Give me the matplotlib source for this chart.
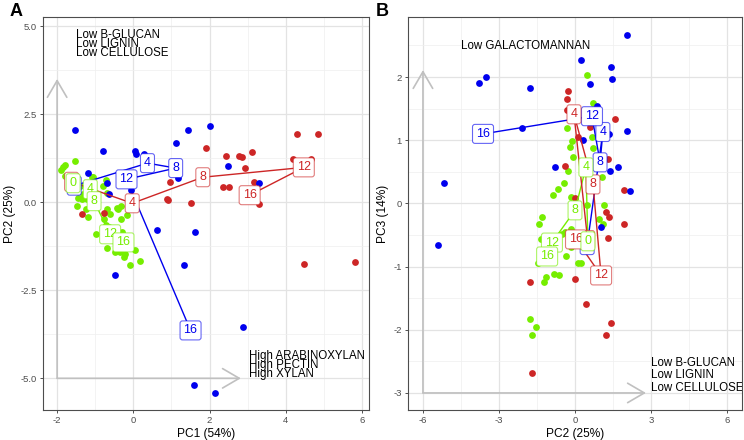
import numpy as np
import matplotlib
matplotlib.use("Agg")
import matplotlib.pyplot as plt
from matplotlib.colors import to_rgba

plt.rcParams['font.family'] = ['Liberation Sans', 'DejaVu Sans']

GREEN = '#76EE00'
RED = '#CD2626'
BLUE = '#0000EE'

times = [0, 4, 8, 12, 16]

# ---- panel A: PC1 vs PC2 ----
a_green_x = [-1.53, -1.78, -1.84, -1.89, -1.80, -1.08, -0.73, -0.79, -1.41, -1.32, -1.24, -1.08,
             -1.46, -1.36, -1.22, -1.49, -1.23, -0.32, -0.39, -0.44, -0.68, -0.61, -1.19, -0.16,
             -0.32, -0.76, -0.73, -0.64, -0.99, -0.29, -0.70, -0.48, -0.36, -0.23, -0.25, 0.03,
             0.17, -0.10, -1.05, -0.69]
a_green_y = [1.16, 1.07, 0.99, 0.92, 0.74, 0.72, 0.62, 0.46, 0.45, 0.22, 0.23, 0.25,
             0.13, 0.09, 0.09, -0.10, -0.19, -0.10, -0.18, -0.15, -0.18, -0.33, -0.41, -0.35,
             -0.49, -0.49, -0.65, -0.70, -0.91, -0.84, -1.30, -1.41, -1.41, -1.46, -1.55, -1.36,
             -1.68, -1.77, 0.71, 0.26]
a_red_x = [4.28, 4.83, 1.91, 2.42, 2.76, 2.85, 3.10, 2.94, 4.18, 4.66, 2.35, 2.51, 3.17, 3.29,
           1.51, 4.47, 5.80, 0.97, 0.89, 0.91, -1.34, -0.77]
a_red_y = [1.93, 1.93, 1.55, 1.32, 1.31, 1.29, 1.43, 0.98, 1.22, 1.23, 0.42, 0.44, 0.58, -0.04,
           -0.03, -1.76, -1.71, 0.58, 0.10, 0.05, -0.33, -0.30]
a_blue_x = [-1.52, -0.79, 0.04, 0.06, 0.28, 1.11, 1.44, 2.00, 2.48, 3.30, 1.18, -1.18, -0.68,
            -0.64, -0.05, 0.61, 1.62, 1.32, -0.48, 2.87, 1.60, 2.14, -1.55]
a_blue_y = [2.05, 1.45, 1.46, 1.36, 1.36, 1.68, 2.05, 2.16, 1.02, 0.54, 0.70, 0.83, 0.55,
            0.24, 0.34, -0.78, -0.84, -1.79, -2.08, -3.53, -5.20, -5.42, 0.45]

# trajectories (week 0..16)
a_traj_green = ([-1.58, -1.13, -1.03, -0.61, -0.26], [0.54, 0.37, 0.03, -0.91, -1.14])
a_traj_blue = ([-1.55, 0.37, 1.11, -0.18, 1.50], [0.47, 1.11, 0.97, 0.65, -3.64])
a_traj_red = ([-1.62, -0.03, 1.82, 4.47, 3.05], [0.58, -0.03, 0.71, 0.99, 0.20])

# ---- panel B: PC2 vs PC3 ----
b_green_x = [0.47, 0.71, -0.32, -0.12, -0.20, 0.67, 0.71, -0.08, -0.28, -0.43, -0.67, -0.87,
             -0.16, 0.47, 1.14, 1.07, -1.30, -1.42, -0.39, -0.51, -0.16, -1.34, -0.36, 0.12,
             0.24, -1.46, -0.83, -0.63, -1.14, -1.22, -1.78, -1.54, -1.70, 0.95, 1.10, -0.16]
b_green_y = [2.03, 1.59, 1.19, 0.98, 0.90, 1.05, 0.87, 0.73, 0.51, 0.32, 0.22, 0.14,
             0.10, -0.02, -0.02, 0.41, -0.22, -0.33, -0.46, -0.48, -0.41, -0.56, -0.83, -0.94,
             -0.95, -0.95, -1.11, -1.13, -1.17, -1.24, -1.83, -1.95, -2.08, -0.25, -0.33, -0.69]
b_red_x = [-0.28, -0.32, -0.32, 1.58, 0.59, 0.12, -0.39, 1.30, 1.93, 0.00, 1.22, 1.34, 1.93,
           1.30, 0.00, -1.78, 0.43, 1.42, 1.22, -1.70]
b_red_y = [1.78, 1.65, 1.48, 1.33, 1.21, 1.05, 0.59, 0.71, 0.21, 0.08, -0.14, -0.22, -0.33,
           -0.54, -1.19, -1.24, -1.59, -1.89, -2.08, -2.68]
b_blue_x = [2.05, 0.24, 1.42, 1.46, 0.59, -3.51, -3.79, -1.78, -2.09, 2.05, 0.87, 0.32, 1.34,
            -5.17, -0.79, 1.70, 1.38, 2.17, -5.41, 1.03]
b_blue_y = [2.67, 2.27, 2.16, 1.97, 1.89, 2.00, 1.90, 1.83, 1.20, 1.14, 1.54, 1.00, 1.10,
            0.33, 0.57, 0.57, 0.51, 0.19, -0.66, -0.37]

b_traj_green = ([0.51, 0.43, 0.00, -0.91, -1.10], [-0.60, 0.57, -0.11, -0.62, -0.84])
b_traj_blue = ([0.48, 1.10, 0.99, 0.67, -3.63], [-0.66, 1.13, 0.65, 1.38, 1.10])
b_traj_red = ([0.50, -0.04, 0.71, 1.03, 0.04], [-0.58, 1.41, 0.30, -1.14, -0.57])


def style_axes(ax, xmaj, xmin, ymaj, ymin, xlim, ylim, xfmt, yfmt):
    ax.set_xlim(xlim)
    ax.set_ylim(ylim)
    ax.set_xticks(xmaj)
    ax.set_xticks(xmin, minor=True)
    ax.set_yticks(ymaj)
    ax.set_yticks(ymin, minor=True)
    ax.set_xticklabels([xfmt % v for v in xmaj])
    ax.set_yticklabels([yfmt % v for v in ymaj])
    ax.grid(True, which='major', color='#e3e3e3', lw=0.9, zorder=0)
    ax.grid(True, which='minor', color='#efefef', lw=0.5, zorder=0)
    ax.set_axisbelow(True)
    ax.tick_params(which='major', length=2.5, width=0.6, color='#333333',
                   labelsize=6.8, labelcolor='#4d4d4d', pad=2)
    ax.tick_params(which='minor', length=0)
    for s in ax.spines.values():
        s.set_color('#4d4d4d')
        s.set_linewidth(0.8)


def draw_traj(ax, traj, color, lw=1.0):
    ax.plot(traj[0], traj[1], color=color, lw=lw, zorder=3)


def draw_labels(ax, traj, color):
    edge = to_rgba(color, 0.6)
    for x, y, t in zip(traj[0], traj[1], times):
        ax.text(x, y, str(t), color=color, fontsize=9, ha='center', va='center', zorder=5,
                bbox=dict(boxstyle='round,pad=0.28,rounding_size=0.2', fc='white',
                          ec=edge, lw=0.8))


def arrow(ax, start, tip):
    ax.annotate('', xy=tip, xytext=start, zorder=1,
                arrowprops=dict(arrowstyle='->,head_length=1.2,head_width=0.7',
                                color='#c0c0c0', lw=1.2, shrinkA=0, shrinkB=0))


fig = plt.figure(figsize=(7.44, 4.40), dpi=100)
axA = fig.add_axes([43 / 744, 1 - 410 / 440, 326 / 744, 393 / 440])
axB = fig.add_axes([408 / 744, 1 - 410 / 440, 334 / 744, 393 / 440])

# panel A
style_axes(axA, [-2, 0, 2, 4, 6], [-1, 1, 3, 5], [-5, -2.5, 0, 2.5, 5],
           [-3.75, -1.25, 1.25, 3.75], (-2.37, 6.18), (-5.9, 5.26), '%d', '%.1f')
arrow(axA, (-2, -5), (-2, 3.5))
arrow(axA, (-2, -5), (2.82, -5))
axA.scatter(a_green_x, a_green_y, s=24, color=GREEN, lw=0, zorder=2)
axA.scatter(a_red_x, a_red_y, s=24, color=RED, lw=0, zorder=2)
axA.scatter(a_blue_x, a_blue_y, s=24, color=BLUE, lw=0, zorder=2)
for tr, c in [(a_traj_green, GREEN), (a_traj_blue, BLUE), (a_traj_red, RED)]:
    draw_traj(axA, tr, c)
for tr, c in [(a_traj_blue, BLUE), (a_traj_red, RED), (a_traj_green, GREEN)]:
    draw_labels(axA, tr, c)
for i, s in enumerate(['Low B-GLUCAN', 'Low LIGNIN', 'Low CELLULOSE']):
    axA.text(-1.5, 4.74 - 0.255 * i, s, fontsize=8.3, va='center', ha='left', zorder=6)
for i, s in enumerate(['High ARABINOXYLAN', 'High PECTIN', 'High XYLAN']):
    axA.text(3.03, -4.38 - 0.245 * i, s, fontsize=8.3, va='center', ha='left', zorder=6,
             clip_on=False)
axA.set_xlabel('PC1 (54%)', fontsize=8.6, labelpad=2)
axA.set_ylabel('PC2 (25%)', fontsize=8.6, labelpad=3)

# panel B
style_axes(axB, [-6, -3, 0, 3, 6], [-4.5, -1.5, 1.5, 4.5], [-3, -2, -1, 0, 1, 2],
           [-2.5, -1.5, -0.5, 0.5, 1.5, 2.5], (-6.59, 6.59), (-3.27, 2.95), '%d', '%d')
arrow(axB, (-6, -3), (-6, 2.11))
arrow(axB, (-6, -3), (2.8, -3))
axB.scatter(b_green_x, b_green_y, s=24, color=GREEN, lw=0, zorder=2)
axB.scatter(b_red_x, b_red_y, s=24, color=RED, lw=0, zorder=2)
axB.scatter(b_blue_x, b_blue_y, s=24, color=BLUE, lw=0, zorder=2)
for tr, c in [(b_traj_green, GREEN), (b_traj_blue, BLUE), (b_traj_red, RED)]:
    draw_traj(axB, tr, c)
for tr, c in [(b_traj_blue, BLUE), (b_traj_red, RED), (b_traj_green, GREEN)]:
    draw_labels(axB, tr, c)
axB.text(-4.5, 2.49, 'Low GALACTOMANNAN', fontsize=8.3, va='center', ha='left', zorder=6)
for i, s in enumerate(['Low B-GLUCAN', 'Low LIGNIN', 'Low CELLULOSE']):
    axB.text(3.0, -2.52 - 0.2 * i, s, fontsize=8.3, va='center', ha='left', zorder=6,
             clip_on=True)
axB.set_xlabel('PC2 (25%)', fontsize=8.6, labelpad=2)
axB.set_ylabel('PC3 (14%)', fontsize=8.6, labelpad=3)

fig.text(10 / 744, 1 - 12 / 440, 'A', fontsize=13, fontweight='bold', va='center', ha='left')
fig.text(376 / 744, 1 - 12 / 440, 'B', fontsize=13, fontweight='bold', va='center', ha='left')

fig.savefig('out.png', dpi=100)
